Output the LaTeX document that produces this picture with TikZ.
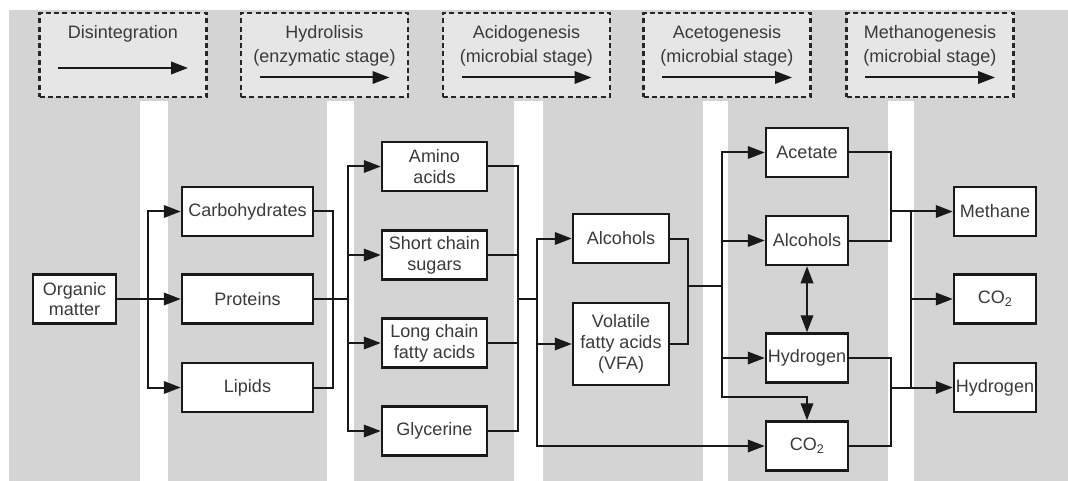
\documentclass[tikz,border=0pt]{standalone}
\usepackage{fontspec}
\setmainfont{Liberation Sans}
\usetikzlibrary{arrows.meta}
\definecolor{band}{HTML}{D4D4D4}
\definecolor{stagebg}{HTML}{E6E6E6}
\definecolor{txt}{HTML}{3A3A3A}
\begin{document}
\begin{tikzpicture}[x=1pt,y=-1pt,
  box/.style={draw=black!90, fill=white, line width=2.5pt, text=txt, align=center,
    inner sep=0pt, minimum width=#1, minimum height=49pt, font=\fontsize{18}{20.7}\selectfont},
  box/.default=82pt,
  stage/.style={draw=black!85, fill=stagebg, line width=2.5pt, dash pattern=on 5pt off 3.3pt,
    minimum width=167pt, minimum height=84pt},
  stagelbl/.style={text=txt, align=center, inner sep=0pt, font=\fontsize{18}{23.5}\selectfont},
  line/.style={draw=black!90, line width=2pt},
  arr/.style={line, -{Triangle[length=17pt,width=12.5pt]}},
  arrboth/.style={line, {Triangle[length=17pt,width=12.5pt]}-{Triangle[length=17pt,width=12.5pt]}}]
  \useasboundingbox (0,0) rectangle (1068,481);
  \fill[band] (9,10) rectangle (1068,481);
  \foreach \a/\b in {140/168,327/354,514/543,703/728,888/914}
    \fill[white] (\a,101) rectangle (\b,481);

  \foreach \n/\x/\ay/\t in {1/123/68/Disintegration,
      2/324.5/77.5/{Hydrolisis\\(enzymatic stage)},
      3/526.5/77.5/{Acidogenesis\\(microbial stage)},
      4/727/77.5/{Acetogenesis\\(microbial stage)},
      5/930/77.5/{Methanogenesis\\(microbial stage)}} {
    \node[stage] (st\n) at (\x,55) {};
    \node[stagelbl, below=14pt] at (st\n.north) {\t};
    \draw[arr] (\x-65,\ay) -- (\x+65,\ay);
  }

  \node[box=83pt] (org) at (74.5,299) {Organic\\matter};
  \node[box=131pt] (carb) at (247.5,211.5) {Carbohydrates};
  \node[box=131pt] (prot) at (247.5,299) {Proteins};
  \node[box=131pt] (lip) at (247.5,387.5) {Lipids};
  \node[box=105pt] (amino) at (434.5,166.5) {Amino\\acids};
  \node[box=105pt] (short) at (434.5,255) {Short chain\\sugars};
  \node[box=105pt] (long) at (434.5,343) {Long chain\\fatty acids};
  \node[box=105pt] (glyc) at (434.5,431) {Glycerine};
  \node[box=96pt] (alc) at (621,238.5) {Alcohols};
  \node[box=96pt, minimum height=82pt] (vfa) at (621,344) {Volatile\\fatty acids\\(VFA)};
  \node[box] (acet) at (807,152.5) {Acetate};
  \node[box] (alcb) at (807,240.5) {Alcohols};
  \node[box] (hyd) at (807,358) {Hydrogen};
  \node[box] (co2) at (807,446) {CO\textsubscript{2}};
  \node[box] (meth) at (995,211.5) {Methane};
  \node[box] (co2b) at (995,299) {CO\textsubscript{2}};
  \node[box] (hydb) at (995,387.5) {Hydrogen};

  \coordinate (b1) at (148,299);
  \coordinate (b2) at (333,299);
  \coordinate (b3) at (348,299);
  \coordinate (b4) at (518,299);
  \coordinate (b5) at (537,299);
  \coordinate (b6) at (688,286);
  \coordinate (b7) at (722,286);
  \coordinate (b7s) at (722,397);
  \coordinate (b8) at (891,211.5);
  \coordinate (b9) at (911,211.5);
  \coordinate (b10) at (891,387.5);

  \draw[arr] (org) -- (prot);
  \draw[arr] (b1) |- (carb);
  \draw[arr] (b1) |- (lip);
  \draw[line] (carb.east) -| (b2) |- (lip.east);
  \draw[line] (prot) -- (b3);
  \foreach \t in {amino,short,long,glyc}
    \draw[arr] (b3) |- (\t);
  \draw[line] (amino.east) -| (b4) |- (glyc.east);
  \draw[line] (short.east) -| (b4);
  \draw[line] (long.east) -| (b4);
  \draw[line] (b4) -- (b5);
  \draw[arr] (b5) |- (alc);
  \draw[arr] (b5) |- (vfa);
  \draw[arr] (b5) |- (co2);
  \draw[line] (alc.east) -| (b6) |- (vfa.east);
  \draw[line] (b6) -- (b7);
  \foreach \t in {acet,alcb,hyd}
    \draw[arr] (b7) |- (\t);
  \draw[arr] (b7) -- (b7s) -| (co2);
  \draw[arrboth] (alcb) -- (hyd);
  \draw[line] (acet.east) -| (b8) |- (alcb.east);
  \draw[line] (hyd.east) -| (b10) |- (co2.east);
  \draw[line] (b8) -- (b9);
  \draw[arr] (b9) -- (meth);
  \draw[arr] (b9) |- (co2b);
  \draw[line] (b9) |- (b10);
  \draw[arr] (b10) -- (hydb);
\end{tikzpicture}
\end{document}
